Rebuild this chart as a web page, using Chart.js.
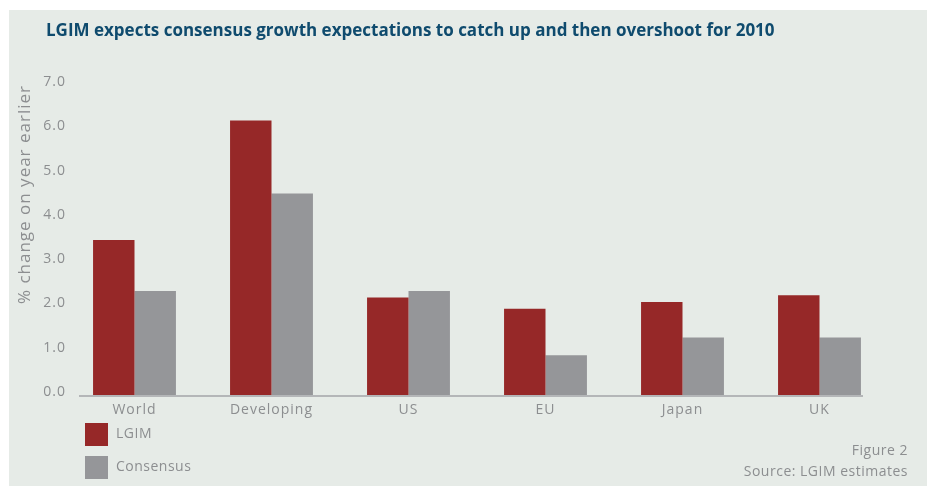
<!DOCTYPE html>
<html>
<head>
<meta charset="utf-8">
<script src="https://cdn.jsdelivr.net/npm/chart.js@4"></script>
<style>
html,body{margin:0;padding:0;background:#ffffff;}
#wrap{width:927px;height:486px;position:relative;}
</style>
</head>
<body>
<div id="wrap"><canvas id="c" width="927" height="486"></canvas></div>
<script>
const titleText = "LGIM expects consensus growth expectations to catch up and then overshoot for 2010";
const yAxisTitle = "% change on year earlier";
const categories = ["World", "Developing", "US", "EU", "Japan", "UK"];
const lgimValues = [3.5, 6.2, 2.2, 1.95, 2.1, 2.25];
const consensusValues = [2.35, 4.55, 2.35, 0.9, 1.3, 1.3];
const seriesNames = ["LGIM", "Consensus"];
const yTicks = [0, 1, 2, 3, 4, 5, 6, 7];
const footerLines = ["Figure 2", "Source: LGIM estimates"];

const RED = "#962828";
const GREY = "#959699";
const BG = "#e6ebe7";
const TEXT = "#8c8e90";
const FONT = "'Open Sans', 'DejaVu Sans', sans-serif";

const decor = {
  id: "decor",
  beforeDraw(chart) {
    const ctx = chart.ctx;
    ctx.save();
    ctx.letterSpacing = "0px";
    ctx.fillStyle = "#ffffff";
    ctx.fillRect(0, 0, chart.width, chart.height);
    ctx.fillStyle = BG;
    ctx.fillRect(9, 10, chart.width - 9, chart.height - 10);
    // title
    ctx.fillStyle = "#0f4b6e";
    ctx.font = "bold 17px " + FONT;
    ctx.textBaseline = "middle";
    ctx.textAlign = "left";
    ctx.fillText(titleText, 46, 31);
    ctx.restore();
    ctx.letterSpacing = "1px";
  },
  afterDraw(chart) {
    const ctx = chart.ctx;
    const area = chart.chartArea;
    const y0 = chart.scales.y.getPixelForValue(0);
    ctx.save();
    ctx.letterSpacing = "0.5px";
    // axis line
    ctx.strokeStyle = "#a3a5a8";
    ctx.lineWidth = 1.5;
    ctx.beginPath();
    ctx.moveTo(area.left + 13, y0 + 1);
    ctx.lineTo(area.right - 25, y0 + 1);
    ctx.stroke();
    // legend (vertical)
    ctx.font = "14px " + FONT;
    ctx.textBaseline = "middle";
    ctx.textAlign = "left";
    chart.data.datasets.forEach((ds, i) => {
      const top = 423 + i * 33;
      ctx.fillStyle = ds.backgroundColor;
      ctx.fillRect(85, top, 23, 23);
      ctx.fillStyle = TEXT;
      ctx.fillText(ds.label, 116, top + 11.5);
    });
    // footer
    ctx.textAlign = "right";
    footerLines.forEach((t, i) => {
      ctx.fillText(t, 908, 451 + i * 21);
    });
    ctx.restore();
  }
};

new Chart(document.getElementById("c"), {
  type: "bar",
  data: {
    labels: categories,
    datasets: [
      { label: seriesNames[0], data: lgimValues, backgroundColor: RED },
      { label: seriesNames[1], data: consensusValues, backgroundColor: GREY }
    ]
  },
  options: {
    responsive: false,
    animation: false,
    devicePixelRatio: 1,
    layout: { padding: { top: 85, right: 39, left: 0, bottom: 0 } },
    datasets: { bar: { categoryPercentage: 0.605, barPercentage: 1.0, borderWidth: 0 } },
    plugins: {
      legend: { display: false },
      title: { display: false },
      tooltip: { enabled: false }
    },
    scales: {
      x: {
        grid: { display: false, drawTicks: false },
        border: { display: false },
        ticks: { color: TEXT, font: { family: FONT, size: 14 }, padding: 7, maxRotation: 0, autoSkip: false },
        afterFit(scale) { scale.height = 91; }
      },
      y: {
        min: 0, max: 7,
        afterBuildTicks(scale) { scale.ticks = yTicks.map(v => ({ value: v })); },
        grid: { display: false, drawTicks: false },
        border: { display: false },
        ticks: {
          color: TEXT, font: { family: FONT, size: 14 }, padding: 0, labelOffset: -3,
          callback: v => Number(v).toFixed(1)
        },
        title: {
          display: true, text: yAxisTitle, color: TEXT, align: "end",
          font: { family: FONT, size: 17 }, padding: { top: 15, bottom: 0 }
        },
        afterFit(scale) { scale.width = 66; }
      }
    }
  },
  plugins: [decor]
});
</script>
</body>
</html>
